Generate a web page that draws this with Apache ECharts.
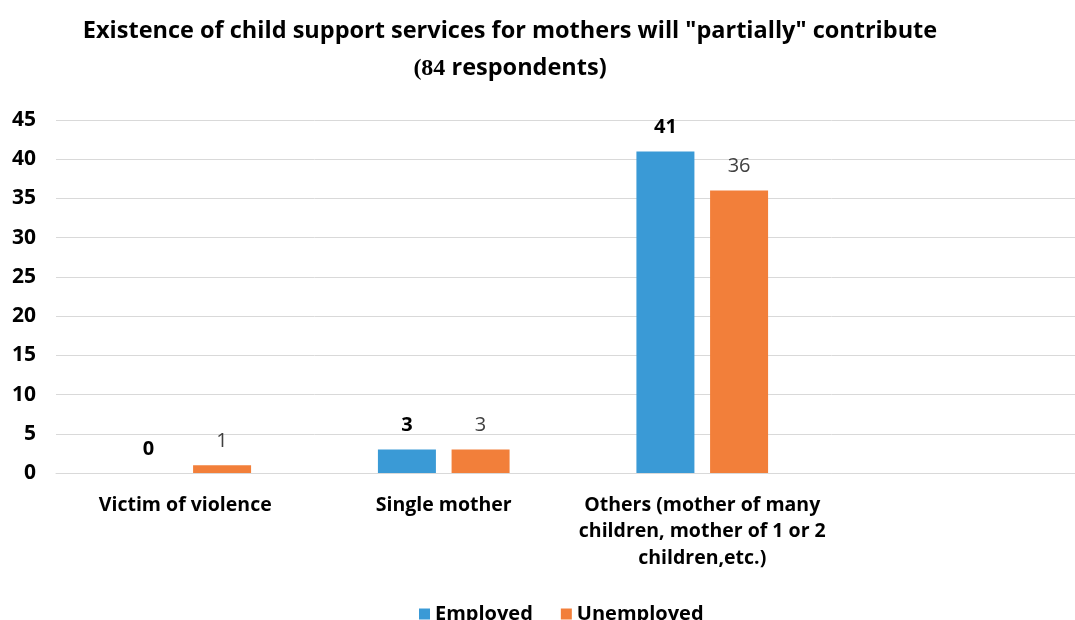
<!DOCTYPE html>
<html>
<head>
<meta charset="utf-8">
<script src="https://cdn.jsdelivr.net/npm/echarts@6/dist/echarts.min.js"></script>
<style>
  html, body { margin: 0; padding: 0; background: #ffffff; overflow: hidden; }
  /* the plot area runs a little past the right edge of the window */
  #chart { width: 1090px; height: 620px; }
</style>
</head>
<body>
<div id="chart"></div>
<script>
// Categories (the last slot is left empty, as in the layout of the original sheet)
const categories = [
  'Victim of violence',
  'Single mother',
  'Others (mother of many\nchildren, mother of 1 or 2\nchildren,etc.)',
  ''
];
const employed = [0, 3, 41, null];
const unemployed = [1, 3, 36, null];
const yTicks = { min: 0, max: 45, interval: 5 };

const chart = echarts.init(document.getElementById('chart'));
chart.setOption({
  animation: false,
  backgroundColor: '#ffffff',
  title: {
    text: 'Existence of child support services for mothers will "partially" contribute\n{s|(84} respondents)',
    left: 505,
    textAlign: 'center',
    top: 8,
    textStyle: {
      fontFamily: '"Open Sans", sans-serif',
      fontWeight: 'bold',
      fontSize: 23.5,
      color: '#000000',
      lineHeight: 37,
      rich: {
        s: {
          fontFamily: '"Liberation Serif", serif',
          fontWeight: 'bold',
          fontSize: 24,
          color: '#000000',
          lineHeight: 37
        }
      }
    }
  },
  legend: {
    data: ['Employed', 'Unemployed'],
    bottom: -9,
    left: 414,
    icon: 'rect',
    itemWidth: 11,
    itemHeight: 11,
    itemGap: 28,
    textStyle: {
      fontFamily: '"Open Sans", sans-serif',
      fontWeight: 'bold',
      fontSize: 20,
      color: '#000000'
    }
  },
  grid: {
    left: 56,
    right: 0,
    top: 120,
    bottom: 147,
    containLabel: false
  },
  xAxis: {
    type: 'category',
    data: categories,
    axisLine: { show: true, lineStyle: { color: '#d9d9d9', width: 1 } },
    axisTick: { show: false },
    axisLabel: {
      interval: 0,
      margin: 19,
      fontFamily: '"Open Sans", sans-serif',
      fontWeight: 'bold',
      fontSize: 19.5,
      lineHeight: 26.5,
      color: '#000000'
    }
  },
  yAxis: {
    type: 'value',
    min: yTicks.min,
    max: yTicks.max,
    interval: yTicks.interval,
    axisLine: { show: false },
    axisTick: { show: false },
    splitLine: { lineStyle: { color: '#d9d9d9', width: 1 } },
    axisLabel: {
      margin: 20,
      fontFamily: '"Open Sans", sans-serif',
      fontWeight: 'bold',
      fontSize: 21,
      color: '#000000'
    }
  },
  series: [
    {
      name: 'Employed',
      type: 'bar',
      data: employed,
      barWidth: 58,
      barGap: '27%',
      itemStyle: { color: '#3a9ad6' },
      label: {
        show: true,
        position: 'top',
        distance: 14,
        fontFamily: '"Open Sans", sans-serif',
        fontWeight: 'bold',
        fontSize: 20,
        color: '#000000'
      }
    },
    {
      name: 'Unemployed',
      type: 'bar',
      data: unemployed,
      barWidth: 58,
      barGap: '27%',
      itemStyle: { color: '#f27f3a' },
      label: {
        show: true,
        position: 'top',
        distance: 14,
        fontFamily: '"Open Sans", sans-serif',
        fontSize: 20,
        color: '#404040'
      }
    }
  ]
});
</script>
</body>
</html>
